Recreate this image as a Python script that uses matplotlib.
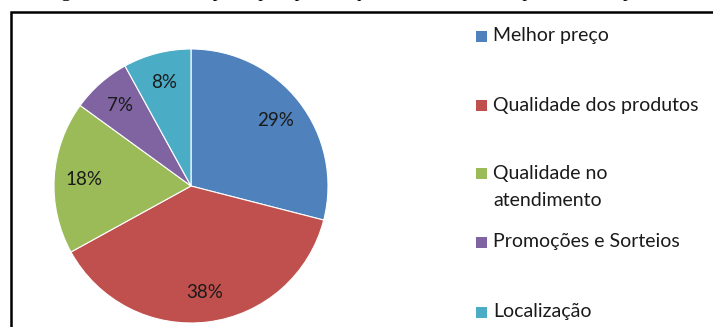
import matplotlib.pyplot as plt
from matplotlib.patches import Rectangle

# survey answers (percent)
categories = ['Melhor preço', 'Qualidade dos produtos', 'Qualidade no\natendimento',
              'Promoções e Sorteios', 'Localização']
shares = [29, 38, 18, 7, 8]
colors = ['#4F81BD', '#C0504D', '#9BBB59', '#8064A2', '#4BACC6']
caption = 'Figura 10 – Quais os principais pontos que levam o cliente a preferir a empresa'

W, H = 713, 327
fig = plt.figure(figsize=(W/100.0, H/100.0), dpi=100)
fig.patch.set_facecolor('white')

# pie area: centre (191,186) px, radius 137 px
cx, cy, r = 191, 186, 137
ax = fig.add_axes([(cx-r)/float(W), (H-cy-r)/float(H), 2*r/float(W), 2*r/float(H)])
wedges, texts, autotexts = ax.pie(shares, colors=colors, startangle=90, counterclock=False,
                                  autopct='%d%%', pctdistance=0.78, radius=1,
                                  wedgeprops=dict(edgecolor='white', linewidth=0.8),
                                  textprops=dict(family='Lato', fontsize=13.5, color='#1a1a1a'))
ax.set_xlim(-1, 1)
ax.set_ylim(-1, 1)
ax.axis('off')

# legend drawn by hand (uneven spacing, two-line entry)
rows = [36, 105, 173, 242, 312]
pitch = 27
for label, col, y in zip(categories, colors, rows):
    fig.add_artist(Rectangle((476/float(W), (H-y-5.5)/float(H)), 11/float(W), 11/float(H),
                             facecolor=col, edgecolor='none', transform=fig.transFigure))
    for i, line in enumerate(label.split('\n')):
        fig.text(493/float(W), (H-y-i*pitch)/float(H), line, family='Lato', fontsize=14,
                 color='#1a1a1a', va='center')

# frame around the chart, cut by the page edge
fig.add_artist(Rectangle((11/float(W), -0.1), 1.2, (H-12)/float(H)+0.1, fill=False,
                         edgecolor='black', linewidth=1.8, transform=fig.transFigure,
                         clip_on=False))

# caption line above, only its descenders fall on the page
fig.text(45/float(W), 1.0 + 3.5/float(H), caption, family='Liberation Serif', fontsize=14,
         va='baseline', color='black')

plt.savefig('out.png', dpi=100)
